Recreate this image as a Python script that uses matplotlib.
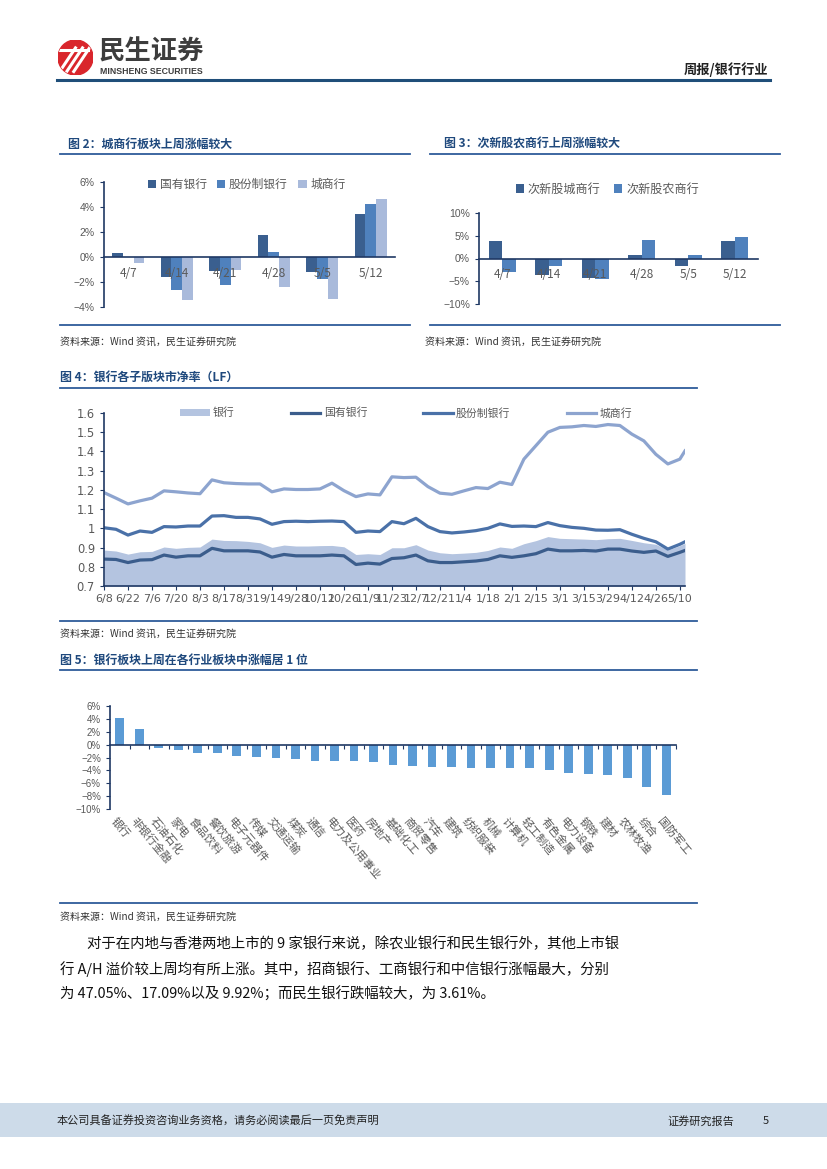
import pandas as pd
import matplotlib
matplotlib.use('Agg')
import matplotlib.pyplot as plt
from matplotlib.lines import Line2D
from matplotlib.patches import Rectangle, Circle
from matplotlib.ticker import FuncFormatter, MultipleLocator
import matplotlib.dates as mdates

plt.rcParams['font.family'] = ['Noto Sans CJK SC', 'DejaVu Sans']

W, H = 827, 1169

# ---- 图2 data ----
weeks = ['4/7', '4/14', '4/21', '4/28', '5/5', '5/12']
state_chg = [0.29, -1.60, -1.10, 1.76, -1.23, 3.47]
joint_chg = [0.02, -2.67, -2.24, 0.43, -1.76, 4.21]
city_chg = [-0.48, -3.41, -1.07, -2.37, -3.39, 4.67]

# ---- 图3 data ----
new_city_chg = [3.8, -3.65, -4.3, 0.8, -1.7, 3.9]
new_rural_chg = [-3.0, -1.6, -4.6, 4.0, 0.66, 4.75]

# ---- 图4 data (weekly PB, LF) ----
pb_dates = pd.date_range('2018-06-08', periods=49, freq='7D').append(
    pd.DatetimeIndex(['2019-05-13']))
pb_bank = [0.887, 0.882, 0.866, 0.878, 0.880, 0.903, 0.896, 0.901, 0.903, 0.944,
           0.937, 0.936, 0.932, 0.925, 0.901, 0.913, 0.908, 0.908, 0.910, 0.911,
           0.904, 0.864, 0.868, 0.864, 0.899, 0.899, 0.915, 0.887, 0.873, 0.868,
           0.871, 0.875, 0.885, 0.903, 0.896, 0.920, 0.936, 0.957, 0.948, 0.946,
           0.944, 0.941, 0.946, 0.948, 0.937, 0.925, 0.917, 0.887, 0.910, 0.922]
pb_state = [0.840, 0.838, 0.822, 0.835, 0.837, 0.861, 0.850, 0.857, 0.857, 0.896,
            0.883, 0.883, 0.883, 0.877, 0.850, 0.864, 0.857, 0.857, 0.857, 0.861,
            0.857, 0.812, 0.819, 0.814, 0.843, 0.847, 0.861, 0.831, 0.822, 0.822,
            0.826, 0.830, 0.838, 0.857, 0.849, 0.857, 0.868, 0.892, 0.883, 0.883,
            0.885, 0.882, 0.892, 0.892, 0.882, 0.875, 0.882, 0.854, 0.875, 0.885]
pb_joint = [1.003, 0.995, 0.965, 0.986, 0.979, 1.009, 1.007, 1.012, 1.012, 1.064,
            1.066, 1.057, 1.057, 1.049, 1.021, 1.035, 1.037, 1.035, 1.037, 1.038,
            1.035, 0.979, 0.986, 0.983, 1.035, 1.024, 1.052, 1.009, 0.983, 0.976,
            0.981, 0.988, 1.000, 1.023, 1.010, 1.012, 1.009, 1.030, 1.014, 1.005,
            1.000, 0.991, 0.990, 0.993, 0.969, 0.948, 0.930, 0.892, 0.917, 0.930]
pb_city = [1.186, 1.157, 1.127, 1.143, 1.157, 1.195, 1.190, 1.184, 1.180, 1.252,
           1.237, 1.233, 1.231, 1.231, 1.190, 1.205, 1.202, 1.202, 1.205, 1.235,
           1.196, 1.165, 1.179, 1.174, 1.268, 1.264, 1.266, 1.217, 1.183, 1.177,
           1.195, 1.212, 1.207, 1.240, 1.228, 1.360, 1.430, 1.500, 1.525, 1.528,
           1.535, 1.530, 1.540, 1.535, 1.490, 1.455, 1.385, 1.335, 1.360, 1.403]

# ---- 图5 data ----
industries = ['银行', '非银行金融', '石油石化', '家电', '食品饮料', '餐饮旅游', '电子元器件',
              '传媒', '交通运输', '煤炭', '通信', '电力及公用事业', '医药', '房地产',
              '基础化工', '商贸零售', '汽车', '建筑', '纺织服装', '机械', '计算机',
              '轻工制造', '有色金属', '电力设备', '钢铁', '建材', '农林牧渔', '综合', '国防军工']
ind_chg = [4.12, 2.47, -0.57, -0.88, -1.34, -1.34, -1.70, -1.90, -2.10, -2.30,
           -2.47, -2.47, -2.53, -2.63, -3.10, -3.35, -3.40, -3.45, -3.56, -3.56,
           -3.60, -3.66, -3.97, -4.48, -4.54, -4.74, -5.15, -6.55, -7.78]

NAVY = '#1F3864'
TITLE = '#1F497D'
RULE = '#2E5C9A'
GREY = '#595959'
C_DARK = '#3A5F8F'
C_MID = '#4F81BD'
C_LIGHT = '#A9BADB'
SOURCE = '资料来源：Wind 资讯，民生证券研究院'


def px_axes(fig, l, t, r, b):
    return fig.add_axes([l / W, 1 - b / H, (r - l) / W, (b - t) / H])


def ftext(fig, x, y, s, **kw):
    kw.setdefault('va', 'center')
    return fig.text(x / W, 1 - y / H, s, **kw)


def hline(fig, x0, x1, y, color=RULE, lw=1.3):
    fig.add_artist(Line2D([x0 / W, x1 / W], [1 - y / H, 1 - y / H],
                          color=color, lw=lw, transform=fig.transFigure))


def pct(v, _):
    return f'{v:.0f}%'.replace('-', '\u2212')


def style_axes(ax):
    for s in ['top', 'right']:
        ax.spines[s].set_visible(False)
    for s in ['left', 'bottom']:
        ax.spines[s].set_color(NAVY)
        ax.spines[s].set_linewidth(1.2)
    ax.tick_params(axis='y', direction='out', length=3, color=NAVY,
                   labelcolor=GREY, labelsize=7.5)
    for lab in ax.get_yticklabels():
        lab.set_fontfamily('Liberation Sans')


fig = plt.figure(figsize=(W / 100, H / 100), dpi=100)

# ---- page header ----
lax = px_axes(fig, 58, 40, 93, 75)
lax.set_xlim(-1, 1)
lax.set_ylim(-1, 1)
lax.set_aspect('equal')
lax.axis('off')
circ = Circle((0, 0), 1, color='#D9262C')
lax.add_patch(circ)
for dx in [-0.35, 0.05, 0.45]:
    ln, = lax.plot([dx - 0.55, dx + 0.35], [-0.8, 0.55], color='white', lw=2.2)
    ln.set_clip_path(circ)
top_ln, = lax.plot([-0.9, 0.7], [0.45, 0.45], color='white', lw=2.2)
top_ln.set_clip_path(circ)
ftext(fig, 99, 52, '民生证券', fontsize=19, fontweight='bold', color='#3D3D3D')
ftext(fig, 100, 72, 'MINSHENG SECURITIES', fontsize=6.3, fontweight='bold',
      color='#3D3D3D', family='Liberation Sans')
ftext(fig, 768, 70, '周报/银行行业', fontsize=9.5, fontweight='bold', ha='right', color='#222222')
hline(fig, 57, 770, 80, color='#1F4E79', lw=2.2)

# ---- 图2 ----
ftext(fig, 68, 144, '图 2：城商行板块上周涨幅较大', fontsize=8.6, fontweight='bold', color=TITLE)
hline(fig, 60, 410, 154)
hline(fig, 60, 410, 325)
ftext(fig, 60, 342, SOURCE, fontsize=7.2, color='#333333')

ax2 = px_axes(fig, 104, 182, 395, 307)
x = range(len(weeks))
bw = 0.22
ax2.bar([i - bw for i in x], state_chg, bw, color=C_DARK, label='国有银行')
ax2.bar(list(x), joint_chg, bw, color=C_MID, label='股份制银行')
ax2.bar([i + bw for i in x], city_chg, bw, color=C_LIGHT, label='城商行')
ax2.set_xlim(-0.5, len(weeks) - 0.5)
ax2.set_ylim(-4, 6)
ax2.yaxis.set_major_locator(MultipleLocator(2))
ax2.yaxis.set_major_formatter(FuncFormatter(pct))
ax2.spines['bottom'].set_position(('data', 0))
ax2.set_xticks(list(x))
ax2.set_xticklabels(weeks)
ax2.tick_params(axis='x', length=0, pad=7, labelsize=8.5, labelcolor=GREY)
style_axes(ax2)
ax2.legend(loc='center', bbox_to_anchor=(0.49, 0.98), ncol=3, frameon=False,
           fontsize=8.5, labelcolor=GREY, handlelength=0.7, handleheight=0.7,
           handletextpad=0.3, columnspacing=0.9)

# ---- 图3 ----
ftext(fig, 444, 144, '图 3：次新股农商行上周涨幅较大', fontsize=8.6, fontweight='bold', color=TITLE)
hline(fig, 430, 780, 154)
hline(fig, 430, 780, 325)
ftext(fig, 425, 342, SOURCE, fontsize=7.2, color='#333333')

ax3 = px_axes(fig, 479, 213, 758, 304)
bw3 = 0.29
ax3.bar([i - bw3 / 2 for i in x], new_city_chg, bw3, color=C_DARK, label='次新股城商行')
ax3.bar([i + bw3 / 2 for i in x], new_rural_chg, bw3, color=C_MID, label='次新股农商行')
ax3.set_xlim(-0.5, len(weeks) - 0.5)
ax3.set_ylim(-10, 10)
ax3.yaxis.set_major_locator(MultipleLocator(5))
ax3.yaxis.set_major_formatter(FuncFormatter(pct))
ax3.spines['bottom'].set_position(('data', 0))
ax3.set_xticks(list(x))
ax3.set_xticklabels(weeks)
ax3.tick_params(axis='x', length=0, pad=7, labelsize=8.5, labelcolor=GREY)
style_axes(ax3)
ax3.legend(loc='center', bbox_to_anchor=(0.46, 1.26), ncol=2, frameon=False,
           fontsize=8.7, labelcolor=GREY, handlelength=0.7, handleheight=0.7,
           handletextpad=0.3, columnspacing=1.1)

# ---- 图4 ----
ftext(fig, 60, 377, '图 4：银行各子版块市净率（LF）', fontsize=8.6, fontweight='bold', color=TITLE)
hline(fig, 60, 697, 388)
hline(fig, 60, 697, 621)
ftext(fig, 60, 634, SOURCE, fontsize=7.2, color='#333333')

ax4 = px_axes(fig, 104, 413, 685, 586)
ax4.fill_between(pb_dates, 0.7, pb_bank, color='#B4C4E0', lw=0, label='银行')
ax4.plot(pb_dates, pb_state, color='#3B5D8C', lw=2.3, label='国有银行')
ax4.plot(pb_dates, pb_joint, color='#4A71A8', lw=2.3, label='股份制银行')
ax4.plot(pb_dates, pb_city, color='#8DA4CF', lw=2.3, label='城商行')
ax4.set_xlim(pb_dates[0], pb_dates[-1])
ax4.set_ylim(0.7, 1.6)
ax4.yaxis.set_major_locator(MultipleLocator(0.1))
ax4.yaxis.set_major_formatter(FuncFormatter(lambda v, _: f'{v:g}'))
ax4.set_xticks(pb_dates[:49:2])
ax4.xaxis.set_major_formatter(mdates.DateFormatter('%-m/%-d'))
ax4.tick_params(axis='x', direction='out', length=3, color=NAVY, labelcolor=GREY,
                labelsize=8.0, pad=3)
style_axes(ax4)
ax4.tick_params(axis='y', labelsize=8.3)
for lab in ax4.get_yticklabels() + ax4.get_xticklabels():
    lab.set_fontfamily('DejaVu Sans')
ax4.legend(loc='center', bbox_to_anchor=(0.52, 1.0), ncol=4, frameon=False,
           fontsize=7.8, labelcolor=GREY, handlelength=2.7, handletextpad=0.3,
           columnspacing=5.2)

# ---- 图5 ----
ftext(fig, 60, 660, '图 5：银行板块上周在各行业板块中涨幅居 1 位', fontsize=8.6, fontweight='bold',
      color=TITLE)
hline(fig, 60, 697, 670)
hline(fig, 60, 697, 903)
ftext(fig, 60, 917, SOURCE, fontsize=7.2, color='#333333')

ax5 = px_axes(fig, 110, 706, 676, 809)
xi = range(len(industries))
ax5.bar(list(xi), ind_chg, 0.45, color='#5B9BD5')
ax5.set_xlim(-0.5, len(industries) - 0.5)
ax5.set_ylim(-10, 6)
ax5.yaxis.set_major_locator(MultipleLocator(2))
ax5.yaxis.set_major_formatter(FuncFormatter(pct))
ax5.spines['bottom'].set_position(('data', 0))
ax5.set_xticks([i + 0.5 for i in xi])
ax5.set_xticklabels([])
ax5.tick_params(axis='x', direction='out', length=3, color=NAVY)
style_axes(ax5)
ax5.tick_params(axis='y', labelsize=7)
for i, name in enumerate(industries):
    ax5.annotate(name, xy=(i, -10), xytext=(-2, -5), textcoords='offset points',
                 rotation=-50, rotation_mode='anchor', ha='left', va='top',
                 fontsize=8, color=GREY)

# ---- body text ----
body = [
    (87, 944, '对于在内地与香港两地上市的 9 家银行来说，除农业银行和民生银行外，其他上市银'),
    (60, 969, '行 A/H 溢价较上周均有所上涨。其中，招商银行、工商银行和中信银行涨幅最大，分别'),
    (60, 994, '为 47.05%、17.09%以及 9.92%；而民生银行跌幅较大，为 3.61%。'),
]
for bx, by, s in body:
    ftext(fig, bx, by, s, fontsize=10.4, color='#111111')

# ---- footer ----
fig.add_artist(Rectangle((0, 1 - 1137 / H), 1, 34 / H, transform=fig.transFigure,
                         color='#CDDBE9', lw=0))
ftext(fig, 57, 1121, '本公司具备证券投资咨询业务资格，请务必阅读最后一页免责声明',
      fontsize=8, color='#222222')
ftext(fig, 667, 1121, '证券研究报告', fontsize=8, color='#222222')
ftext(fig, 763, 1121, '5', fontsize=8, color='#222222')

fig.savefig('out.png', dpi=100)
